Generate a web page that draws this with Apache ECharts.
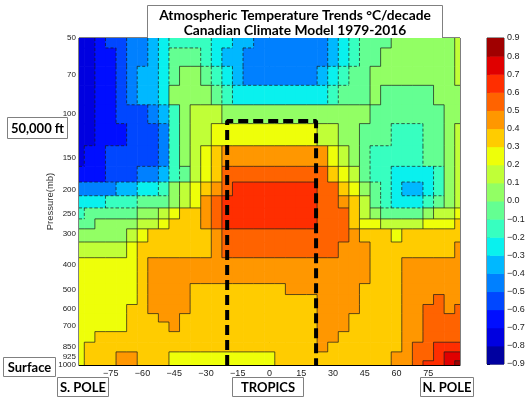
<!DOCTYPE html>
<html>
<head>
<meta charset="utf-8">
<script src="https://cdn.jsdelivr.net/npm/echarts@6/dist/echarts.min.js"></script>
<style>
html,body{margin:0;padding:0;background:#fff;}
#chart{width:530px;height:399px;}
</style>
</head>
<body>
<div id="chart"></div>
<script>
// latitude columns (deg) and pressure rows (mb)
var lats = [-90,-85,-80,-75,-70,-65,-60,-55,-50,-45,-40,-35,-30,-25,-20,-15,-10,-5,0,
            5,10,15,20,25,30,35,40,45,50,55,60,65,70,75,80,85,90];
var levels = [50,60,70,85,100,120,150,175,200,225,250,275,300,350,400,450,500,550,600,650,700,775,850,925,1000];
var yTicks = [50,70,100,150,200,250,300,400,500,600,700,850,925,1000];
var binEdges = [-0.9,-0.8,-0.7,-0.6,-0.5,-0.4,-0.3,-0.2,-0.1,0,0.1,0.2,0.3,0.4,0.5,0.6,0.7,0.8,0.9];
var tropicsLat = [-20, 22];
var tropicsTop = 107;

// trend (°C/decade), one row per pressure level
var t50  = [-0.75,-0.75,-0.65,-0.55,-0.55,-0.45,-0.45,-0.35,-0.25,-0.15,-0.15,-0.15,-0.15,-0.25,-0.25,-0.35,-0.35,-0.45,-0.45,-0.45,-0.45,-0.45,-0.45,-0.45,-0.35,-0.25,-0.15,-0.05,-0.05,-0.05,0.05,0.05,0.05,0.05,0.05,0.05,0.15];
var t60  = [-0.75,-0.75,-0.65,-0.65,-0.55,-0.45,-0.45,-0.35,-0.25,-0.05,-0.05,-0.05,-0.15,-0.25,-0.35,-0.35,-0.45,-0.45,-0.45,-0.45,-0.45,-0.45,-0.45,-0.45,-0.35,-0.25,-0.15,-0.05,-0.05,0.05,0.05,0.05,0.05,0.05,0.05,0.05,0.15];
var t70  = [-0.75,-0.75,-0.65,-0.65,-0.55,-0.45,-0.35,-0.35,-0.25,-0.05,0.05,0.05,-0.05,-0.15,-0.25,-0.35,-0.45,-0.45,-0.45,-0.45,-0.45,-0.45,-0.45,-0.35,-0.25,-0.15,-0.05,-0.05,0.05,0.05,0.05,0.05,0.05,0.05,0.05,0.05,0.15];
var t85  = [-0.75,-0.75,-0.65,-0.65,-0.55,-0.45,-0.35,-0.35,-0.25,0.05,0.05,0.05,0.05,-0.05,-0.15,-0.25,-0.25,-0.25,-0.25,-0.25,-0.25,-0.25,-0.25,-0.25,-0.15,-0.05,-0.05,-0.05,0.05,-0.05,-0.05,-0.05,-0.05,-0.05,0.05,0.05,0.05];
var t100 = [-0.75,-0.75,-0.65,-0.65,-0.55,-0.55,-0.55,-0.45,-0.35,-0.15,0.05,0.15,0.15,0.15,0.05,0.05,0.05,0.05,0.05,0.05,0.05,0.05,0.05,0.05,0.05,0.05,0.05,0.05,-0.05,-0.05,-0.05,-0.05,-0.05,-0.05,-0.05,0.05,0.05];
var t120 = [-0.75,-0.75,-0.65,-0.65,-0.65,-0.55,-0.55,-0.55,-0.45,-0.15,0.05,0.15,0.15,0.25,0.25,0.25,0.25,0.25,0.25,0.25,0.25,0.25,0.25,0.15,0.15,0.05,0.05,-0.05,-0.05,-0.05,-0.15,-0.15,-0.15,-0.05,-0.05,0.05,0.15];
var t150 = [-0.75,-0.65,-0.65,-0.55,-0.55,-0.55,-0.55,-0.55,-0.45,-0.15,0.05,0.15,0.25,0.35,0.45,0.45,0.45,0.45,0.45,0.45,0.45,0.45,0.45,0.45,0.25,0.15,0.05,-0.05,-0.15,-0.15,-0.15,-0.15,-0.15,-0.05,-0.05,0.05,0.15];
var t175 = [-0.65,-0.65,-0.65,-0.55,-0.55,-0.55,-0.45,-0.45,-0.35,-0.15,-0.05,0.15,0.25,0.35,0.55,0.55,0.55,0.55,0.55,0.55,0.55,0.55,0.55,0.55,0.35,0.25,0.15,-0.05,-0.15,-0.15,-0.25,-0.25,-0.25,-0.25,-0.15,0.05,0.15];
var t200 = [-0.45,-0.45,-0.45,-0.45,-0.35,-0.35,-0.25,-0.25,-0.15,0.05,0.15,0.25,0.35,0.45,0.55,0.65,0.65,0.65,0.65,0.65,0.65,0.65,0.65,0.55,0.55,0.35,0.25,0.05,-0.05,-0.15,-0.25,-0.35,-0.35,-0.25,-0.15,0.05,0.15];
var t225 = [-0.25,-0.25,-0.25,-0.15,-0.15,-0.15,-0.05,-0.05,-0.05,0.05,0.15,0.25,0.45,0.55,0.65,0.65,0.65,0.65,0.65,0.65,0.65,0.65,0.65,0.55,0.55,0.45,0.35,0.15,-0.05,-0.15,-0.25,-0.25,-0.25,-0.15,-0.05,0.05,0.15];
var t250 = [-0.15,-0.05,-0.05,-0.05,-0.05,-0.05,0.05,0.05,0.15,0.25,0.35,0.35,0.45,0.55,0.65,0.65,0.65,0.65,0.65,0.65,0.65,0.65,0.65,0.55,0.55,0.55,0.35,0.15,0.05,-0.05,-0.05,-0.05,-0.05,0.05,0.15,0.15,0.25];
var t275 = [-0.05,-0.05,0.05,0.05,0.05,0.05,0.15,0.15,0.25,0.35,0.35,0.35,0.45,0.55,0.65,0.65,0.65,0.65,0.65,0.65,0.65,0.65,0.65,0.55,0.55,0.55,0.35,0.25,0.25,0.15,0.15,0.15,0.15,0.25,0.25,0.25,0.35];
var t300 = [0.05,0.05,0.05,0.05,0.05,0.15,0.25,0.35,0.35,0.35,0.35,0.35,0.35,0.45,0.55,0.55,0.55,0.55,0.55,0.55,0.55,0.55,0.55,0.55,0.55,0.55,0.45,0.35,0.35,0.35,0.25,0.35,0.35,0.35,0.35,0.35,0.35];
var t350 = [0.15,0.15,0.15,0.15,0.15,0.25,0.35,0.35,0.35,0.35,0.35,0.35,0.35,0.45,0.55,0.55,0.55,0.55,0.55,0.55,0.55,0.55,0.55,0.55,0.55,0.45,0.45,0.45,0.35,0.35,0.35,0.35,0.35,0.35,0.35,0.35,0.45];
var t400 = [0.25,0.25,0.25,0.25,0.25,0.25,0.35,0.45,0.45,0.45,0.45,0.45,0.45,0.45,0.45,0.45,0.45,0.45,0.45,0.45,0.45,0.45,0.45,0.45,0.45,0.45,0.45,0.45,0.35,0.35,0.35,0.45,0.45,0.45,0.45,0.45,0.45];
var t450 = [0.25,0.25,0.25,0.25,0.25,0.25,0.35,0.45,0.45,0.45,0.45,0.45,0.45,0.45,0.45,0.45,0.45,0.45,0.45,0.45,0.45,0.45,0.45,0.45,0.45,0.45,0.45,0.45,0.35,0.35,0.35,0.45,0.45,0.45,0.45,0.45,0.45];
var t500 = [0.25,0.25,0.25,0.25,0.25,0.25,0.35,0.45,0.45,0.45,0.45,0.35,0.35,0.35,0.35,0.35,0.35,0.35,0.35,0.35,0.45,0.45,0.45,0.45,0.45,0.45,0.45,0.35,0.35,0.35,0.35,0.45,0.45,0.45,0.45,0.45,0.45];
var t550 = [0.25,0.25,0.25,0.25,0.25,0.25,0.35,0.45,0.45,0.45,0.45,0.35,0.35,0.35,0.35,0.35,0.35,0.35,0.35,0.35,0.35,0.35,0.35,0.45,0.45,0.45,0.45,0.35,0.35,0.35,0.35,0.45,0.45,0.45,0.55,0.45,0.45];
var t600 = [0.25,0.25,0.25,0.25,0.25,0.35,0.35,0.45,0.45,0.45,0.45,0.35,0.35,0.35,0.35,0.35,0.35,0.35,0.35,0.35,0.35,0.35,0.35,0.45,0.45,0.45,0.45,0.35,0.35,0.35,0.35,0.45,0.45,0.55,0.55,0.45,0.55];
var t650 = [0.25,0.25,0.25,0.25,0.25,0.35,0.35,0.35,0.45,0.45,0.35,0.35,0.35,0.35,0.35,0.35,0.35,0.35,0.35,0.35,0.35,0.35,0.35,0.45,0.45,0.45,0.35,0.35,0.35,0.35,0.35,0.45,0.45,0.55,0.55,0.55,0.55];
var t700 = [0.25,0.25,0.25,0.25,0.25,0.35,0.35,0.35,0.35,0.45,0.35,0.35,0.35,0.35,0.35,0.35,0.35,0.35,0.35,0.35,0.35,0.35,0.35,0.45,0.45,0.45,0.35,0.35,0.35,0.35,0.35,0.45,0.45,0.55,0.55,0.55,0.55];
var t775 = [0.25,0.25,0.35,0.35,0.35,0.35,0.35,0.35,0.35,0.35,0.35,0.35,0.35,0.35,0.35,0.35,0.35,0.35,0.35,0.35,0.35,0.35,0.35,0.45,0.45,0.35,0.35,0.35,0.35,0.35,0.35,0.45,0.45,0.55,0.55,0.55,0.55];
var t850 = [0.25,0.35,0.35,0.35,0.35,0.35,0.35,0.35,0.35,0.35,0.35,0.35,0.35,0.35,0.35,0.35,0.35,0.35,0.35,0.35,0.35,0.35,0.35,0.45,0.35,0.35,0.35,0.35,0.35,0.35,0.35,0.45,0.55,0.55,0.65,0.65,0.65];
var t925 = [0.25,0.35,0.35,0.35,0.45,0.45,0.35,0.35,0.35,0.25,0.25,0.25,0.25,0.25,0.25,0.25,0.25,0.25,0.25,0.35,0.35,0.35,0.35,0.35,0.35,0.35,0.35,0.35,0.35,0.35,0.45,0.45,0.55,0.55,0.65,0.75,0.75];
var t1000= [0.25,0.35,0.35,0.35,0.45,0.45,0.35,0.35,0.35,0.25,0.25,0.25,0.25,0.25,0.25,0.25,0.25,0.25,0.25,0.35,0.35,0.35,0.35,0.35,0.35,0.35,0.35,0.35,0.35,0.35,0.45,0.45,0.55,0.65,0.65,0.75,0.85];

var rows = [t50,t60,t70,t85,t100,t120,t150,t175,t200,t225,t250,t275,t300,t350,
            t400,t450,t500,t550,t600,t650,t700,t775,t850,t925,t1000];

// jet colours, one per 0.1 band
var jet = ['#0000a0','#0000e0','#000eff','#0047ff','#0080ff','#00b8ff','#09f1ee','#37ffc0','#64ff92',
           '#92ff64','#c0ff37','#eeff09','#ffcc00','#ff9700','#ff6300','#ff2e00','#e00000','#a00000'];

function bandOf(v) {
  var k = Math.floor((v - binEdges[0]) / 0.1 + 1e-6);
  return Math.max(0, Math.min(jet.length - 1, k));
}

function rowTop(i) { return i === 0 ? levels[0] : Math.sqrt(levels[i - 1] * levels[i]); }
function rowBot(i) { return i === levels.length - 1 ? levels[i] : Math.sqrt(levels[i] * levels[i + 1]); }
function colLo(j) { return j === 0 ? lats[0] : (lats[j - 1] + lats[j]) / 2; }
function colHi(j) { return j === lats.length - 1 ? lats[j] : (lats[j] + lats[j + 1]) / 2; }

// cells: [lat, p, value, latLo, latHi, pTop, pBottom]
var cells = [];
// band borders: [lat1, p1, lat2, p2, level]
var borders = [];
rows.forEach(function (row, i) {
  row.forEach(function (v, j) {
    cells.push([lats[j], levels[i], v, colLo(j), colHi(j), rowTop(i), rowBot(i)]);
    var k = bandOf(v);
    if (j < row.length - 1) {
      var kr = bandOf(row[j + 1]);
      if (kr !== k) borders.push([colHi(j), rowTop(i), colHi(j), rowBot(i), binEdges[Math.max(k, kr)]]);
    }
    if (i < rows.length - 1) {
      var kb = bandOf(rows[i + 1][j]);
      if (kb !== k) borders.push([colLo(j), rowBot(i), colHi(j), rowBot(i), binEdges[Math.max(k, kb)]]);
    }
  });
});

var bands = [];
for (var k = 0; k < binEdges.length - 1; k++) bands.push([binEdges[k], binEdges[k + 1], k]);

function minusFmt(s) { return String(s).replace('-', '\u2212'); }

var chart = echarts.init(document.getElementById('chart'));

function labelBox(x, y, w, h, txt, size) {
  return {
    type: 'group', left: x, top: y,
    children: [
      {type: 'rect', shape: {x: 0, y: 0, width: w, height: h},
       style: {fill: '#fff', stroke: '#808080', lineWidth: 1}},
      {type: 'text', x: w / 2, y: h / 2 + 0.5,
       style: {text: txt, fill: '#000', font: 'bold ' + size + 'px Lato', textAlign: 'center', textVerticalAlign: 'middle'}}
    ]
  };
}

var option = {
  backgroundColor: '#fff',
  animation: false,
  grid: [
    {left: 79, top: 38, width: 381, height: 327, show: true, borderColor: '#000', borderWidth: 1, backgroundColor: 'transparent'},
    {left: 487, top: 38, width: 17, height: 326, show: true, borderColor: '#000', borderWidth: 0.8, backgroundColor: 'transparent'}
  ],
  xAxis: [
    {
      type: 'value', gridIndex: 0, min: -90, max: 90, interval: 15,
      axisLine: {show: true, lineStyle: {color: '#000'}},
      axisTick: {inside: true, length: 4, lineStyle: {color: '#000'}},
      splitLine: {show: false},
      axisLabel: {showMinLabel: false, showMaxLabel: false, fontSize: 9, color: '#222',
                  fontFamily: 'Liberation Sans', margin: 4,
                  formatter: function (v) { return minusFmt(v); }}
    },
    {type: 'value', gridIndex: 1, min: 0, max: 1, show: false}
  ],
  yAxis: [
    {
      type: 'log', logBase: 10, gridIndex: 0, min: 50, max: 1000, inverse: true,
      name: 'Pressure(mb)', nameLocation: 'middle', nameGap: 24, nameMoveOverlap: false,
      nameTextStyle: {fontSize: 9.5, color: '#333', fontFamily: 'Liberation Sans'},
      axisLine: {show: true, lineStyle: {color: '#000'}},
      axisTick: {inside: true, length: 4, customValues: yTicks, lineStyle: {color: '#000'}},
      splitLine: {show: false},
      minorTick: {show: false},
      axisLabel: {customValues: yTicks, fontSize: 8, color: '#222', fontFamily: 'Liberation Sans',
                  margin: 3, hideOverlap: false,
                  formatter: function (v) { return String(Math.round(v)); }}
    },
    {
      type: 'value', gridIndex: 1, min: -0.9, max: 0.9, interval: 0.1, position: 'right',
      axisLine: {show: false},
      axisTick: {show: true, length: 3, inside: false, lineStyle: {color: '#000'}},
      splitLine: {show: false},
      axisLabel: {fontSize: 9, color: '#222', fontFamily: 'Liberation Sans', margin: 3,
                  formatter: function (v) {
                    var s = Math.abs(v) < 1e-9 ? '0.0' : v.toFixed(1);
                    return minusFmt(s);
                  }}
    }
  ],
  series: [
    {
      type: 'custom', xAxisIndex: 0, yAxisIndex: 0, clip: true, silent: true, z: 2,
      data: cells,
      encode: {x: 0, y: 1},
      renderItem: function (params, api) {
        var a = api.coord([api.value(3), api.value(5)]);
        var b = api.coord([api.value(4), api.value(6)]);
        return {
          type: 'rect',
          shape: {x: Math.min(a[0], b[0]), y: Math.min(a[1], b[1]),
                  width: Math.abs(b[0] - a[0]) + 0.6, height: Math.abs(b[1] - a[1]) + 0.6},
          style: {fill: jet[bandOf(api.value(2))]}
        };
      }
    },
    {
      type: 'custom', xAxisIndex: 0, yAxisIndex: 0, clip: true, silent: true, z: 3,
      data: borders,
      encode: {x: 0, y: 1},
      renderItem: function (params, api) {
        var a = api.coord([api.value(0), api.value(1)]);
        var b = api.coord([api.value(2), api.value(3)]);
        var neg = api.value(4) < -1e-9;
        return {
          type: 'line',
          shape: {x1: a[0], y1: a[1], x2: b[0], y2: b[1]},
          style: {stroke: '#1a1a1a', lineWidth: 0.7, lineDash: neg ? [3, 2] : null}
        };
      }
    },
    {
      type: 'line', xAxisIndex: 0, yAxisIndex: 0, silent: true, z: 10,
      showSymbol: false, symbol: 'none',
      data: [[tropicsLat[0], 1000], [tropicsLat[0], tropicsTop], [tropicsLat[1], tropicsTop], [tropicsLat[1], 1000]],
      lineStyle: {color: '#000', width: 4, type: [10, 5]}
    },
    {
      type: 'custom', xAxisIndex: 1, yAxisIndex: 1, silent: true,
      data: bands,
      renderItem: function (params, api) {
        var a = api.coord([0, api.value(1)]);
        var b = api.coord([1, api.value(0)]);
        return {
          type: 'rect',
          shape: {x: a[0], y: a[1], width: b[0] - a[0], height: b[1] - a[1] + 0.5},
          style: {fill: jet[api.value(2)]}
        };
      }
    }
  ],
  graphic: [
    {
      type: 'group', left: 147, top: 5,
      children: [
        {type: 'rect', shape: {x: 0, y: 0, width: 295, height: 33},
         style: {fill: '#fff', stroke: '#808080', lineWidth: 1}},
        {type: 'text', x: 147.5, y: 10,
         style: {text: 'Atmospheric Temperature Trends \u00b0C/decade', fill: '#000',
                 font: 'bold 13.8px Lato', textAlign: 'center', textVerticalAlign: 'middle'}},
        {type: 'text', x: 147.5, y: 25,
         style: {text: 'Canadian Climate Model 1979-2016', fill: '#000',
                 font: 'bold 13.8px Lato', textAlign: 'center', textVerticalAlign: 'middle'}}
      ]
    },
    labelBox(7, 117, 60, 21, '50,000 ft', 13),
    labelBox(3, 357, 52, 19, 'Surface', 13),
    labelBox(57, 377, 51, 19, 'S. POLE', 13),
    labelBox(232, 377, 71, 19, 'TROPICS', 13),
    labelBox(420, 377, 53, 19, 'N. POLE', 13)
  ]
};

chart.setOption(option);
</script>
</body>
</html>
